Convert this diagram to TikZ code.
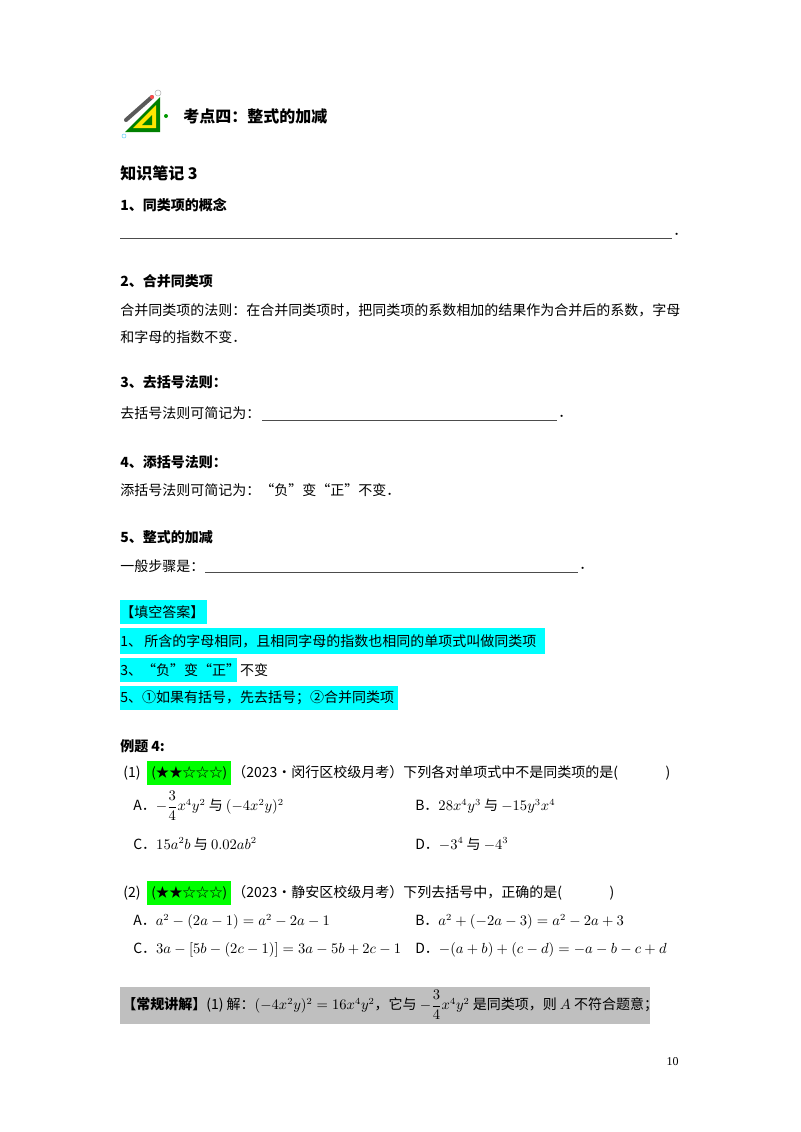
\documentclass[tikz,border=0pt]{standalone}
\usepackage{amsmath}
\usepackage{fontspec}
\setmainfont{Liberation Serif}
\newfontfamily\cjk{Noto Sans CJK SC}
\newcommand\cjkb{\cjk\bfseries}
\definecolor{hlcyan}{RGB}{0,255,255}
\definecolor{hlgreen}{RGB}{0,255,0}
\definecolor{solgray}{RGB}{191,191,191}
\begin{document}
\begin{tikzpicture}[x=0.75pt,y=-0.75pt,
  t/.style={anchor=west,inner sep=0pt,font=\fontsize{10.5}{12}\selectfont\cjk},
  h/.style={anchor=west,inner sep=0pt,font=\fontsize{10.5}{12}\selectfont\cjkb},
  star/.style={t,fill=hlgreen,inner ysep=4pt,inner xsep=0pt,font=\fontsize{10}{12}\selectfont\cjk},
  blank/.style={line width=0.4pt,black!70}]
\fill[white] (0,0) rectangle (800,1132);
\useasboundingbox (0,0) rectangle (800,1132);
% icon
\fill[green!50!black] (125,132) -- (160,97) -- (160,132) -- cycle;
\fill[yellow!90!orange] (133,128) -- (156,105) -- (156,128) -- cycle;
\fill[green!50!black] (142,125) -- (152,115) -- (152,125) -- cycle;
\draw[line width=3pt,gray!70!black,line cap=round] (126,120) -- (152,97);
\fill[red!70] (152,97) circle (2);
\draw[gray!60] (158,93) circle (3);
\fill[green!60!black] (166,116) circle (2);
\draw[cyan!60] (124,136) circle (2);
\node[h,font=\fontsize{12}{14}\selectfont\cjkb] (title) at (183,116) {考点四：整式的加减};
\node[h,font=\fontsize{12}{14}\selectfont\cjkb] (kn) at (120,173) {知识笔记 3};
\node[h] (s1) at (120,205) {1、同类项的概念};
\coordinate (l1a) at (120,238); \coordinate (l1b) at (672,238);
\draw[blank] (l1a) -- (l1b);
\node[t] (d1) at (673,234) {．};
\node[h] (s2) at (120,281) {2、合并同类项};
\node[t] (p2a) at (120,310) {合并同类项的法则：在合并同类项时，把同类项的系数相加的结果作为合并后的系数，字母};
\node[t] (p2b) at (120,337) {和字母的指数不变．};
\node[h] (s3) at (120,382) {3、去括号法则：};
\node[t] (p3) at (120,413) {去括号法则可简记为：};
\coordinate (l3a) at (262,420); \coordinate (l3b) at (557,420);
\draw[blank] (l3a) -- (l3b);
\node[t] (d3) at (558,416) {．};
\node[h] (s4) at (120,462) {4、添括号法则：};
\node[t] (p4) at (120,490) {添括号法则可简记为：“负”变“正”不变．};
\node[h] (s5) at (120,537) {5、整式的加减};
\node[t] (p5) at (120,566) {一般步骤是：};
\coordinate (l5a) at (205,572); \coordinate (l5b) at (578,572);
\draw[blank] (l5a) -- (l5b);
\node[t] (d5) at (579,568) {．};
% answers
\fill[hlcyan] (120,600) rectangle (207,624);
\node[t] (ans) at (120,612) {【填空答案】};
\fill[hlcyan] (120,628) rectangle (545,654);
\node[t] (a1) at (120,641) {1、\,所含的字母相同，且相同字母的指数也相同的单项式叫做同类项};
\fill[hlcyan] (120,658) rectangle (237,682);
\node[t] (a3) at (120,670) {3、“负”变“正”不变};
\fill[hlcyan] (120,686) rectangle (398,710);
\node[t] (a5) at (120,698) {5、①如果有括号，先去括号；②合并同类项};
% example
\node[h] (ex) at (120,746) {例题 4:};
\node[t] (q1n) at (123,773) {(1)};
\node[star,minimum width=84*0.75pt,align=center,anchor=west] (q1s) at (147,773) {(★★☆☆☆)};
\node[t] (q1) at (232,773) {（2023•闵行区校级月考）下列各对单项式中不是同类项的是(\hspace{3.4em})};
\node[t] (q1a) at (133,806) {A．$-\dfrac{3}{4}x^4y^2$ 与 $(-4x^2y)^2$};
\node[t] (q1b) at (415,806) {B．$28x^4y^3$ 与 $-15y^3x^4$};
\node[t] (q1c) at (133,844) {C．$15a^2b$ 与 $0.02ab^2$};
\node[t] (q1d) at (415,844) {D．$-3^4$ 与 $-4^3$};
\node[t] (q2n) at (123,893) {(2)};
\node[star,minimum width=84*0.75pt,align=center,anchor=west] (q2s) at (147,893) {(★★☆☆☆)};
\node[t] (q2) at (232,893) {（2023•静安区校级月考）下列去括号中，正确的是(\hspace{3.4em})};
\node[t] (q2a) at (133,922) {A．$a^2-(2a-1)=a^2-2a-1$};
\node[t] (q2b) at (415,922) {B．$a^2+(-2a-3)=a^2-2a+3$};
\node[t] (q2c) at (133,950) {C．$3a-[5b-(2c-1)]=3a-5b+2c-1$};
\node[t] (q2d) at (415,950) {D．$-(a+b)+(c-d)=-a-b-c+d$};
\fill[solgray] (120,987) rectangle (650,1024);
\node[t] (sol) at (122,1005) {{\cjkb【常规讲解】}(1) 解：$(-4x^2y)^2=16x^4y^2$，它与 $-\dfrac{3}{4}x^4y^2$ 是同类项，则 $A$ 不符合题意；};
\node[anchor=east,inner sep=0pt,font=\fontsize{9}{10}\selectfont] (pg) at (679,1062) {10};
\end{tikzpicture}
\end{document}
